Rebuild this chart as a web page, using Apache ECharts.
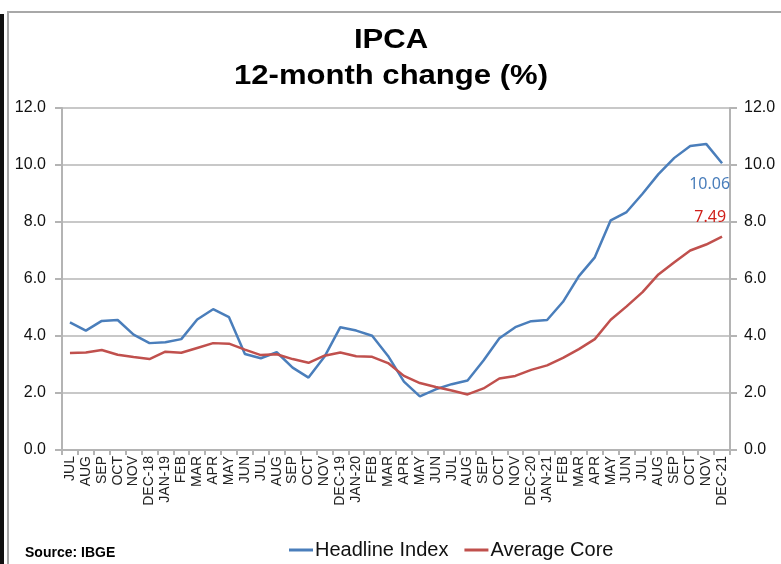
<!DOCTYPE html>
<html>
<head>
<meta charset="utf-8">
<script src="https://cdn.jsdelivr.net/npm/echarts@6/dist/echarts.min.js"></script>
<style>
  html, body { margin: 0; padding: 0; background: #fff; }
  #main { width: 781px; height: 564px; }
</style>
</head>
<body>
<div id="main"></div>
<script>
var months = ['JUL', 'AUG', 'SEP', 'OCT', 'NOV', 'DEC-18', 'JAN-19', 'FEB', 'MAR', 'APR', 'MAY', 'JUN',
    'JUL', 'AUG', 'SEP', 'OCT', 'NOV', 'DEC-19', 'JAN-20', 'FEB', 'MAR', 'APR', 'MAY', 'JUN',
    'JUL', 'AUG', 'SEP', 'OCT', 'NOV', 'DEC-20', 'JAN-21', 'FEB', 'MAR', 'APR', 'MAY', 'JUN',
    'JUL', 'AUG', 'SEP', 'OCT', 'NOV', 'DEC-21'];

var headline = [4.48, 4.19, 4.53, 4.56, 4.05, 3.75, 3.78, 3.89, 4.58, 4.94, 4.66, 3.37,
    3.22, 3.43, 2.89, 2.54, 3.27, 4.31, 4.19, 4.01, 3.30, 2.40, 1.88, 2.13,
    2.31, 2.44, 3.14, 3.92, 4.31, 4.52, 4.56, 5.20, 6.10, 6.76, 8.06, 8.35,
    8.99, 9.68, 10.25, 10.67, 10.74, 10.06];

var avgCore = [3.40, 3.42, 3.51, 3.34, 3.26, 3.19, 3.45, 3.41, 3.58, 3.75, 3.73, 3.52,
    3.33, 3.36, 3.19, 3.06, 3.31, 3.42, 3.29, 3.27, 3.05, 2.60, 2.35, 2.21,
    2.09, 1.95, 2.16, 2.51, 2.60, 2.81, 2.97, 3.23, 3.54, 3.89, 4.57, 5.04,
    5.54, 6.16, 6.59, 7.00, 7.21, 7.49];

var chartDom = document.getElementById('main');
var myChart = echarts.init(chartDom);
var option;

var gray = '#b4b4b4';
var font = 'Liberation Sans, Arial, sans-serif';

function yAxisCfg(pos) {
    return {
        type: 'value',
        position: pos,
        min: 0,
        max: 12,
        interval: 2,
        axisLine: { show: true, lineStyle: { color: gray, width: 2 } },
        axisTick: { show: true, length: 7, lineStyle: { color: gray, width: 2 } },
        splitLine: { show: pos === 'left', lineStyle: { color: '#c8c8c8', width: 2 } },
        axisLabel: {
            color: '#111',
            fontSize: 16,
            fontFamily: font,
            margin: pos === 'left' ? 16 : 14,
            formatter: function (v) { return v.toFixed(1); }
        }
    };
}

option = {
    animation: false,
    backgroundColor: '#fff',
    graphic: [
        { type: 'rect', shape: { x: 0, y: 14, width: 4, height: 560 }, style: { fill: '#111' } },
        { type: 'rect', shape: { x: 8, y: 12, width: 800, height: 600 },
          style: { fill: 'none', stroke: '#a8a8a8', lineWidth: 2 } },
        { type: 'text', x: 391, y: 41, scaleX: 1.15,
          style: { text: 'IPCA', fill: '#000', font: 'bold 27px ' + font, align: 'center', verticalAlign: 'middle' } },
        { type: 'text', x: 391, y: 77, scaleX: 1.15,
          style: { text: '12-month change (%)', fill: '#000', font: 'bold 27px ' + font, align: 'center', verticalAlign: 'middle' } },
        { type: 'text', left: 25, top: 546,
          style: { text: 'Source: IBGE', fill: '#000', font: 'bold 14px ' + font } }
    ],
    legend: {
        data: ['Headline Index', 'Average Core'],
        left: 284,
        top: 535,
        itemWidth: 24,
        itemHeight: 3,
        itemGap: 16,
        icon: 'rect',
        textStyle: { fontSize: 20, color: '#111', fontFamily: font, padding: [0, 0, 0, -3] }
    },
    grid: {
        left: 62,
        right: 51,
        top: 108,
        bottom: 114
    },
    xAxis: {
        type: 'category',
        data: months,
        boundaryGap: true,
        axisLine: { lineStyle: { color: gray, width: 2 } },
        axisTick: { show: true, length: 5, lineStyle: { color: gray, width: 2 } },
        axisLabel: {
            interval: 0,
            rotate: 90,
            fontSize: 14,
            color: '#222',
            margin: 6,
            fontFamily: font
        }
    },
    yAxis: [yAxisCfg('left'), yAxisCfg('right')],
    series: [
        {
            name: 'Headline Index',
            type: 'line',
            data: headline,
            showSymbol: false,
            color: '#4a7ebb',
            lineStyle: { width: 2.5, color: '#4a7ebb' },
            endLabel: {
                show: true,
                align: 'right',
                offset: [0, 21],
                fontSize: 16,
                color: '#4a7ebb',
                fontFamily: 'Noto Sans, sans-serif',
                formatter: function (p) { return p.value.toFixed(2); }
            }
        },
        {
            name: 'Average Core',
            type: 'line',
            data: avgCore,
            showSymbol: false,
            color: '#c0504d',
            lineStyle: { width: 2.5, color: '#c0504d' },
            endLabel: {
                show: true,
                align: 'right',
                offset: [-4, -19],
                fontSize: 16,
                color: '#d0201a',
                fontFamily: 'Noto Sans, sans-serif',
                formatter: function (p) { return p.value.toFixed(2); }
            }
        }
    ]
};

option && myChart.setOption(option);
</script>
</body>
</html>
